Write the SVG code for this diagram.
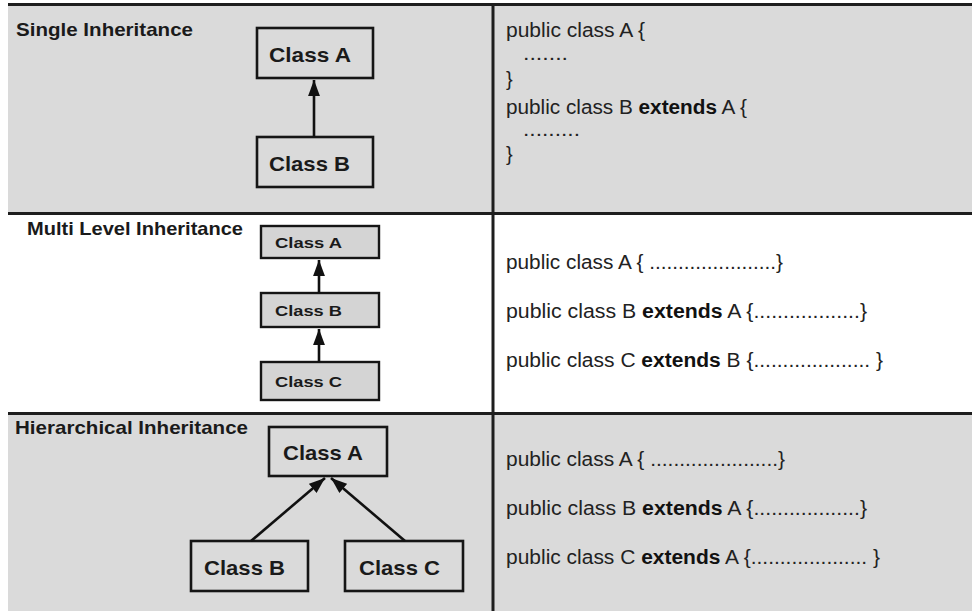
<svg xmlns="http://www.w3.org/2000/svg" width="972" height="611" viewBox="0 0 972 611">
<style>
.bg{fill:#dadada}
.sep{stroke:#1e1e1e;stroke-width:3;fill:none}
.box{fill:none;stroke:#151515;stroke-width:2.6}
.boxg{fill:#d4d4d4;stroke:#151515;stroke-width:2.4}
.title{font-family:"Liberation Sans",Arial,sans-serif;font-weight:bold;font-size:19px;fill:#1a1a1a}
.lbl{font-family:"Liberation Sans",Arial,sans-serif;font-weight:bold;font-size:21px;fill:#1a1a1a}
.lbls{font-family:"Liberation Sans",Arial,sans-serif;font-weight:bold;font-size:15.5px;fill:#1a1a1a}
.code{font-family:"Liberation Sans",Arial,sans-serif;font-size:20px;fill:#222}
.code tspan.k{font-weight:bold;fill:#111}
.edge{stroke:#111;stroke-width:2.6;fill:none}
</style>
<defs>
<marker id="ah" viewBox="0 0 10 10" refX="10" refY="5" markerWidth="6.2" markerHeight="4.6" preserveAspectRatio="none" markerUnits="strokeWidth" orient="auto">
<path d="M0,0 L10,5 L0,10 Z" fill="#111"/>
</marker>
</defs>
<rect x="0" y="0" width="972" height="611" fill="#ffffff"/>
<rect class="bg" x="8" y="5" width="964" height="208"/>
<rect x="8" y="213" width="964" height="200" fill="#ffffff"/>
<rect class="bg" x="8" y="413" width="964" height="198"/>
<g id="grid">
<line class="sep" x1="8" y1="4.5" x2="972" y2="4.5"/>
<line class="sep" x1="8" y1="213.5" x2="972" y2="213.5"/>
<line class="sep" x1="8" y1="413.5" x2="972" y2="413.5"/>
<line class="sep" x1="493" y1="3" x2="493" y2="611"/>
</g>
<g id="titles">
<text class="title" x="16" y="36" textLength="177" lengthAdjust="spacingAndGlyphs">Single Inheritance</text>
<text class="title" x="27" y="235" textLength="216" lengthAdjust="spacingAndGlyphs">Multi Level Inheritance</text>
<text class="title" x="15" y="434" textLength="233" lengthAdjust="spacingAndGlyphs">Hierarchical Inheritance</text>
</g>
<g id="s-classA">
<rect class="box" x="257" y="28" width="116" height="50"/>
<text class="lbl" x="269" y="62" textLength="82" lengthAdjust="spacingAndGlyphs">Class A</text>
</g>
<g id="s-classB">
<rect class="box" x="257" y="137" width="116" height="50"/>
<text class="lbl" x="269" y="171" textLength="81" lengthAdjust="spacingAndGlyphs">Class B</text>
</g>
<g id="m-classA">
<rect class="boxg" x="261" y="226" width="118" height="32"/>
<text class="lbls" x="275" y="248" textLength="67" lengthAdjust="spacingAndGlyphs">Class A</text>
</g>
<g id="m-classB">
<rect class="boxg" x="261" y="293" width="118" height="34"/>
<text class="lbls" x="275" y="316" textLength="67" lengthAdjust="spacingAndGlyphs">Class B</text>
</g>
<g id="m-classC">
<rect class="boxg" x="261" y="362" width="118" height="38"/>
<text class="lbls" x="275" y="387" textLength="67" lengthAdjust="spacingAndGlyphs">Class C</text>
</g>
<g id="h-classA">
<rect class="box" x="269" y="427" width="118" height="49"/>
<text class="lbl" x="283" y="460" textLength="80" lengthAdjust="spacingAndGlyphs">Class A</text>
</g>
<g id="h-classB">
<rect class="box" x="191" y="541" width="117" height="50"/>
<text class="lbl" x="204" y="575" textLength="81" lengthAdjust="spacingAndGlyphs">Class B</text>
</g>
<g id="h-classC">
<rect class="box" x="345" y="541" width="118" height="50"/>
<text class="lbl" x="359" y="575" textLength="81" lengthAdjust="spacingAndGlyphs">Class C</text>
</g>
<g id="connectors">
<line class="edge" x1="314" y1="137" x2="314" y2="80" marker-end="url(#ah)"/>
<line class="edge" x1="319" y1="293" x2="319" y2="260" marker-end="url(#ah)"/>
<line class="edge" x1="319" y1="362" x2="319" y2="329" marker-end="url(#ah)"/>
<line class="edge" x1="251" y1="541" x2="325" y2="478" marker-end="url(#ah)"/>
<line class="edge" x1="405" y1="541" x2="331" y2="478" marker-end="url(#ah)"/>
</g>
<g id="code-single">
<text class="code" x="506" y="37" textLength="139" lengthAdjust="spacingAndGlyphs">public class A {</text>
<text class="code" x="523" y="60" textLength="45" lengthAdjust="spacingAndGlyphs" font-size="15">.......</text>
<text class="code" x="506" y="86">}</text>
<text class="code" x="506" y="114" textLength="241" lengthAdjust="spacingAndGlyphs">public class B <tspan class="k">extends</tspan> A {</text>
<text class="code" x="523" y="136" textLength="57" lengthAdjust="spacingAndGlyphs" font-size="15">.........</text>
<text class="code" x="506" y="161">}</text>
</g>
<g id="code-multi">
<text class="code" x="506" y="269" textLength="277" lengthAdjust="spacingAndGlyphs">public class A { ......................}</text>
<text class="code" x="506" y="318" textLength="361" lengthAdjust="spacingAndGlyphs">public class B <tspan class="k">extends</tspan> A {..................}</text>
<text class="code" x="506" y="367" textLength="377" lengthAdjust="spacingAndGlyphs">public class C <tspan class="k">extends</tspan>  B {.................... }</text>
</g>
<g id="code-hier">
<text class="code" x="506" y="466" textLength="279" lengthAdjust="spacingAndGlyphs">public class A { ......................}</text>
<text class="code" x="506" y="515" textLength="361" lengthAdjust="spacingAndGlyphs">public class B <tspan class="k">extends</tspan> A {..................}</text>
<text class="code" x="506" y="564" textLength="374" lengthAdjust="spacingAndGlyphs">public class C <tspan class="k">extends</tspan> A {.................... }</text>
</g>
</svg>
